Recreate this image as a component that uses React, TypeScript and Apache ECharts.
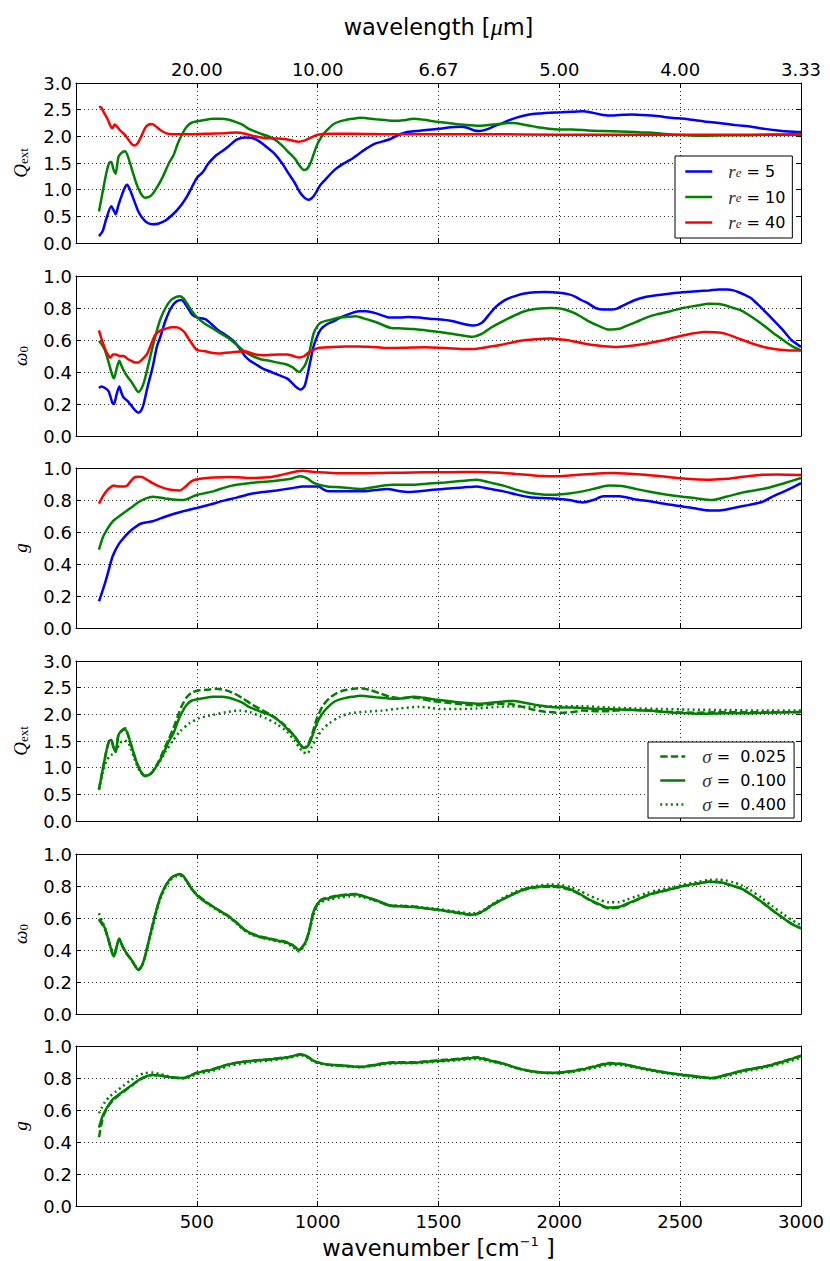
import React, { useEffect, useRef } from "react";
import * as echarts from "echarts";

type Pt = [number, number];

// ---------- axis / tick data ----------
const X_MIN = 0;
const X_MAX = 3000;
const X_STEP = 500;
const WAVELENGTH_LABELS = ["20.00", "10.00", "6.67", "5.00", "4.00", "3.33"];
const LEGEND_RE = ["r_e = 5", "r_e = 10", "r_e = 40"];
const LEGEND_SIGMA = ["σ = 0.025", "σ = 0.100", "σ = 0.400"];

// ---------- panel 1: Q_ext, r_e = 5 / 10 / 40 ----------
const Q_RE5: Pt[] = [[95,0.13],[110,0.22],[125,0.45],[146,0.69],[155,0.62],[164,0.54],[175,0.7],[186,0.85],[200,1.02],[212,1.09],[225,0.98],[240,0.8],[257,0.6],[273,0.48],[295,0.38],[317,0.35],[340,0.36],[370,0.42],[415,0.6],[440,0.74],[460,0.88],[480,1.05],[500,1.22],[525,1.33],[546,1.48],[579,1.64],[610,1.74],[633,1.82],[665,1.94],[700,1.98],[731,1.97],[760,1.9],[786,1.81],[820,1.68],[852,1.5],[880,1.3],[906,1.12],[925,0.96],[945,0.85],[961,0.81],[975,0.84],[990,0.92],[1010,1.08],[1030,1.18],[1070,1.37],[1100,1.47],[1135,1.56],[1170,1.67],[1201,1.77],[1235,1.86],[1266,1.9],[1300,1.95],[1332,2.02],[1370,2.08],[1410,2.1],[1450,2.12],[1506,2.14],[1550,2.17],[1590,2.18],[1620,2.16],[1648,2.11],[1670,2.1],[1700,2.13],[1725,2.18],[1760,2.24],[1790,2.3],[1823,2.35],[1856,2.39],[1890,2.42],[1921,2.43],[1960,2.44],[2009,2.45],[2050,2.46],[2096,2.47],[2140,2.44],[2170,2.41],[2205,2.39],[2250,2.4],[2300,2.41],[2340,2.4],[2402,2.38],[2460,2.35],[2533,2.32],[2600,2.28],[2664,2.25],[2730,2.21],[2795,2.18],[2850,2.14],[2904,2.11],[2950,2.09],[3000,2.08]];
const Q_RE10: Pt[] = [[95,0.59],[110,0.95],[125,1.3],[137,1.5],[146,1.52],[155,1.38],[164,1.3],[175,1.6],[186,1.68],[203,1.72],[215,1.62],[230,1.4],[245,1.18],[258,1.02],[272,0.9],[284,0.85],[300,0.86],[317,0.92],[340,1.08],[360,1.25],[385,1.5],[404,1.65],[420,1.85],[437,2.02],[458,2.18],[480,2.26],[524,2.3],[568,2.33],[600,2.33],[633,2.31],[660,2.27],[688,2.22],[715,2.14],[742,2.09],[770,2.04],[797,2.0],[825,1.93],[852,1.83],[880,1.7],[906,1.58],[925,1.45],[943,1.37],[958,1.4],[972,1.52],[990,1.75],[1004,1.9],[1025,2.05],[1048,2.16],[1070,2.24],[1092,2.28],[1120,2.31],[1146,2.33],[1175,2.35],[1201,2.34],[1240,2.32],[1288,2.3],[1320,2.29],[1354,2.3],[1397,2.33],[1440,2.31],[1485,2.28],[1540,2.25],[1594,2.22],[1659,2.2],[1700,2.21],[1747,2.23],[1790,2.25],[1812,2.25],[1850,2.22],[1878,2.2],[1910,2.17],[1943,2.15],[2000,2.13],[2052,2.13],[2120,2.11],[2183,2.1],[2250,2.09],[2314,2.08],[2370,2.07],[2424,2.05],[2480,2.03],[2533,2.02],[2600,2.01],[2680,2.02],[2751,2.02],[2850,2.03],[2950,2.04],[3000,2.05]];
const Q_RE40: Pt[] = [[95,2.55],[105,2.54],[115,2.45],[130,2.33],[142,2.2],[150,2.15],[160,2.22],[170,2.18],[185,2.1],[200,2.04],[215,1.95],[230,1.86],[242,1.83],[255,1.87],[270,2.0],[285,2.15],[300,2.22],[315,2.23],[335,2.17],[355,2.1],[380,2.05],[420,2.04],[480,2.04],[550,2.05],[610,2.06],[660,2.07],[700,2.05],[740,2.0],[780,1.97],[820,1.96],[860,1.95],[895,1.92],[920,1.9],[945,1.92],[970,1.97],[1000,2.03],[1050,2.05],[1150,2.05],[1300,2.04],[1500,2.04],[1700,2.04],[2000,2.03],[2300,2.03],[2600,2.03],[3000,2.03]];

// ---------- panel 2: omega_0, r_e ----------
const W_RE5: Pt[] = [[95,0.30],[105,0.31],[120,0.30],[135,0.28],[150,0.21],[157,0.20],[168,0.26],[179,0.31],[188,0.27],[197,0.24],[213,0.22],[229,0.19],[245,0.16],[258,0.145],[270,0.16],[280,0.2],[295,0.3],[317,0.43],[335,0.56],[349,0.62],[370,0.72],[393,0.8],[415,0.84],[437,0.85],[450,0.83],[463,0.8],[480,0.76],[502,0.74],[535,0.73],[560,0.7],[590,0.66],[620,0.63],[655,0.59],[680,0.54],[699,0.5],[720,0.47],[742,0.45],[775,0.42],[808,0.4],[840,0.38],[873,0.36],[895,0.33],[908,0.31],[930,0.29],[945,0.31],[956,0.37],[970,0.47],[983,0.56],[1000,0.63],[1015,0.67],[1040,0.7],[1070,0.72],[1100,0.745],[1135,0.765],[1170,0.78],[1201,0.78],[1245,0.765],[1299,0.74],[1340,0.74],[1376,0.744],[1420,0.74],[1463,0.733],[1510,0.728],[1550,0.72],[1605,0.7],[1645,0.69],[1681,0.71],[1710,0.76],[1736,0.806],[1765,0.84],[1790,0.86],[1820,0.876],[1856,0.89],[1900,0.898],[1943,0.9],[2009,0.894],[2040,0.885],[2063,0.873],[2090,0.85],[2118,0.83],[2150,0.8],[2183,0.79],[2215,0.79],[2238,0.796],[2270,0.82],[2314,0.85],[2360,0.87],[2402,0.88],[2460,0.89],[2511,0.898],[2570,0.905],[2620,0.91],[2660,0.915],[2696,0.915],[2720,0.91],[2740,0.9],[2770,0.88],[2795,0.86],[2830,0.81],[2860,0.765],[2895,0.71],[2926,0.66],[2960,0.6],[3000,0.556]];
const W_RE10: Pt[] = [[95,0.594],[108,0.57],[120,0.535],[135,0.46],[150,0.38],[157,0.36],[168,0.42],[179,0.47],[188,0.44],[197,0.41],[213,0.37],[229,0.34],[245,0.3],[258,0.275],[272,0.3],[284,0.35],[300,0.45],[317,0.556],[333,0.65],[349,0.73],[370,0.8],[393,0.85],[415,0.87],[430,0.873],[445,0.86],[459,0.83],[480,0.78],[502,0.74],[535,0.7],[568,0.67],[600,0.64],[633,0.61],[665,0.57],[699,0.525],[730,0.5],[764,0.48],[800,0.47],[830,0.46],[865,0.45],[895,0.43],[912,0.41],[924,0.4],[937,0.42],[950,0.45],[965,0.52],[983,0.64],[1000,0.69],[1015,0.71],[1050,0.725],[1092,0.74],[1130,0.745],[1157,0.748],[1190,0.735],[1223,0.72],[1260,0.7],[1299,0.677],[1350,0.672],[1397,0.669],[1450,0.66],[1506,0.65],[1550,0.64],[1594,0.63],[1638,0.62],[1681,0.64],[1720,0.68],[1769,0.72],[1810,0.75],[1856,0.78],[1910,0.795],[1965,0.8],[2010,0.795],[2052,0.775],[2085,0.75],[2118,0.72],[2160,0.69],[2205,0.665],[2249,0.67],[2280,0.69],[2314,0.71],[2360,0.74],[2402,0.76],[2460,0.78],[2511,0.8],[2570,0.815],[2620,0.827],[2660,0.825],[2686,0.817],[2720,0.8],[2751,0.785],[2790,0.75],[2838,0.70],[2880,0.65],[2926,0.6],[2965,0.56],[3000,0.535]];
const W_RE40: Pt[] = [[95,0.66],[105,0.61],[120,0.546],[135,0.5],[142,0.49],[153,0.51],[164,0.51],[180,0.5],[197,0.5],[215,0.48],[229,0.47],[245,0.46],[258,0.46],[275,0.48],[295,0.515],[310,0.57],[327,0.63],[350,0.66],[371,0.67],[395,0.68],[415,0.68],[432,0.67],[448,0.65],[465,0.61],[480,0.577],[495,0.545],[506,0.535],[535,0.53],[560,0.52],[590,0.515],[620,0.52],[655,0.525],[699,0.53],[720,0.52],[742,0.51],[775,0.505],[808,0.508],[840,0.51],[873,0.51],[900,0.5],[924,0.49],[945,0.5],[961,0.52],[985,0.54],[1004,0.55],[1050,0.555],[1113,0.56],[1170,0.56],[1223,0.556],[1270,0.552],[1310,0.55],[1370,0.552],[1441,0.554],[1530,0.55],[1616,0.544],[1660,0.546],[1703,0.556],[1760,0.57],[1834,0.594],[1900,0.605],[1965,0.61],[2030,0.6],[2096,0.58],[2160,0.565],[2227,0.556],[2290,0.563],[2358,0.577],[2420,0.595],[2489,0.62],[2550,0.64],[2598,0.65],[2640,0.648],[2686,0.64],[2740,0.61],[2795,0.58],[2850,0.555],[2904,0.54],[2950,0.535],[3000,0.535]];

// ---------- panel 3: g, r_e ----------
const G_RE5: Pt[] = [[95,0.167],[105,0.21],[120,0.28],[135,0.36],[152,0.45],[175,0.52],[197,0.5625],[220,0.6],[240,0.625],[265,0.65],[290,0.66],[317,0.667],[350,0.685],[393,0.708],[440,0.728],[500,0.75],[555,0.772],[612,0.796],[665,0.815],[721,0.8375],[775,0.85],[830,0.86],[890,0.873],[939,0.885],[1004,0.885],[1025,0.865],[1048,0.854],[1110,0.854],[1179,0.854],[1240,0.863],[1288,0.869],[1330,0.858],[1376,0.85],[1450,0.86],[1528,0.871],[1600,0.878],[1659,0.885],[1710,0.87],[1769,0.854],[1820,0.835],[1878,0.817],[1930,0.812],[1987,0.808],[2040,0.8],[2096,0.785],[2140,0.8],[2183,0.823],[2249,0.823],[2310,0.805],[2380,0.79],[2440,0.775],[2511,0.76],[2570,0.745],[2620,0.735],[2664,0.735],[2720,0.75],[2780,0.768],[2838,0.7875],[2880,0.82],[2940,0.86],[3000,0.906]];
const G_RE10: Pt[] = [[95,0.49],[105,0.54],[113,0.573],[130,0.62],[152,0.667],[180,0.7],[207,0.73],[235,0.76],[262,0.79],[290,0.81],[317,0.82],[345,0.816],[371,0.81],[400,0.803],[426,0.80],[445,0.8],[459,0.805],[480,0.82],[502,0.833],[535,0.843],[568,0.854],[600,0.87],[633,0.885],[680,0.898],[721,0.906],[765,0.912],[808,0.917],[850,0.925],[884,0.931],[910,0.943],[928,0.948],[945,0.943],[961,0.931],[980,0.91],[1004,0.896],[1040,0.885],[1092,0.879],[1140,0.873],[1179,0.869],[1230,0.88],[1280,0.892],[1310,0.896],[1397,0.896],[1460,0.903],[1528,0.91],[1590,0.918],[1659,0.927],[1710,0.91],[1769,0.89],[1820,0.865],[1878,0.844],[1930,0.835],[1987,0.833],[2040,0.84],[2096,0.854],[2150,0.872],[2205,0.89],[2240,0.889],[2271,0.885],[2320,0.868],[2380,0.85],[2440,0.835],[2511,0.82],[2570,0.81],[2631,0.80],[2690,0.82],[2751,0.844],[2800,0.858],[2860,0.875],[2930,0.905],[3000,0.9375]];
const G_RE40: Pt[] = [[95,0.777],[108,0.815],[120,0.844],[135,0.87],[157,0.89],[170,0.886],[186,0.885],[200,0.885],[212,0.89],[225,0.915],[240,0.94],[257,0.945],[273,0.944],[295,0.925],[317,0.906],[345,0.885],[371,0.871],[400,0.862],[430,0.86],[450,0.88],[469,0.906],[485,0.922],[502,0.93],[535,0.936],[568,0.94],[633,0.944],[690,0.94],[742,0.9375],[780,0.94],[808,0.944],[845,0.955],[884,0.969],[915,0.98],[939,0.983],[970,0.978],[1004,0.973],[1060,0.969],[1113,0.967],[1190,0.967],[1266,0.969],[1350,0.971],[1441,0.973],[1550,0.974],[1659,0.975],[1720,0.972],[1769,0.969],[1820,0.962],[1878,0.956],[1930,0.95],[1987,0.948],[2040,0.953],[2096,0.96],[2160,0.966],[2227,0.969],[2290,0.964],[2358,0.958],[2420,0.948],[2489,0.9375],[2560,0.93],[2620,0.927],[2660,0.93],[2707,0.935],[2770,0.947],[2838,0.958],[2900,0.96],[3000,0.956]];

// ---------- panel 4: Q_ext, sigma (solid = sigma 0.100 = Q_RE10) ----------
const Q_S025: Pt[] = [[95,0.59],[110,0.95],[125,1.3],[137,1.5],[146,1.52],[155,1.38],[164,1.3],[175,1.6],[186,1.68],[203,1.74],[215,1.62],[230,1.4],[245,1.18],[258,1.02],[272,0.9],[284,0.84],[300,0.86],[317,0.93],[340,1.1],[360,1.3],[385,1.55],[404,1.75],[420,1.95],[437,2.15],[458,2.32],[480,2.41],[510,2.45],[540,2.46],[580,2.48],[620,2.45],[655,2.39],[690,2.3],[730,2.18],[770,2.08],[810,1.98],[850,1.85],[880,1.72],[906,1.58],[925,1.45],[943,1.37],[958,1.42],[975,1.6],[995,1.9],[1020,2.15],[1048,2.3],[1080,2.4],[1110,2.45],[1150,2.48],[1180,2.49],[1220,2.45],[1260,2.39],[1300,2.33],[1340,2.3],[1380,2.32],[1420,2.3],[1470,2.25],[1530,2.22],[1594,2.19],[1650,2.17],[1700,2.18],[1750,2.2],[1790,2.2],[1830,2.16],[1880,2.1],[1940,2.05],[2000,2.03],[2050,2.04],[2096,2.07],[2150,2.06],[2205,2.06],[2260,2.08],[2320,2.08],[2400,2.06],[2480,2.04],[2560,2.03],[2650,2.04],[2750,2.04],[2850,2.04],[3000,2.04]];
const Q_S400: Pt[] = [[95,0.59],[110,0.9],[125,1.12],[140,1.22],[150,1.25],[165,1.3],[180,1.45],[195,1.5],[210,1.5],[225,1.38],[245,1.13],[262,0.95],[280,0.86],[300,0.85],[320,0.95],[345,1.1],[370,1.3],[400,1.5],[430,1.68],[469,1.83],[510,1.93],[568,1.99],[620,2.04],[677,2.07],[720,2.04],[760,1.97],[786,1.925],[830,1.82],[873,1.675],[905,1.5],[925,1.37],[939,1.3],[955,1.26],[972,1.36],[995,1.55],[1020,1.72],[1048,1.83],[1090,1.95],[1135,2.02],[1200,2.05],[1266,2.07],[1340,2.11],[1419,2.14],[1470,2.12],[1506,2.1],[1580,2.1],[1659,2.11],[1747,2.14],[1800,2.15],[1878,2.14],[1980,2.15],[2096,2.15],[2200,2.13],[2314,2.11],[2420,2.1],[2533,2.09],[2700,2.08],[2850,2.07],[3000,2.07]];

// ---------- panel 5: omega_0, sigma ----------
const W_S025: Pt[] = [[95,0.59],[108,0.56],[120,0.53],[135,0.46],[150,0.38],[157,0.36],[168,0.42],[179,0.47],[188,0.44],[197,0.41],[213,0.37],[229,0.34],[245,0.3],[258,0.275],[272,0.3],[284,0.35],[300,0.45],[317,0.556],[333,0.65],[349,0.73],[370,0.8],[393,0.85],[415,0.87],[430,0.875],[445,0.86],[459,0.83],[480,0.78],[502,0.745],[535,0.705],[568,0.67],[600,0.64],[633,0.61],[665,0.57],[699,0.525],[730,0.5],[764,0.485],[800,0.472],[830,0.462],[865,0.452],[895,0.432],[912,0.412],[924,0.402],[937,0.42],[950,0.45],[965,0.52],[983,0.64],[1000,0.69],[1015,0.715],[1050,0.73],[1092,0.742],[1130,0.748],[1157,0.75],[1190,0.737],[1223,0.72],[1260,0.698],[1299,0.678],[1350,0.675],[1397,0.672],[1450,0.66],[1506,0.648],[1550,0.638],[1594,0.628],[1638,0.618],[1681,0.638],[1720,0.678],[1769,0.72],[1810,0.75],[1856,0.776],[1910,0.792],[1965,0.796],[2010,0.79],[2052,0.772],[2085,0.748],[2118,0.718],[2160,0.686],[2205,0.66],[2249,0.665],[2280,0.686],[2314,0.708],[2360,0.738],[2402,0.758],[2460,0.778],[2511,0.798],[2570,0.814],[2620,0.826],[2660,0.824],[2686,0.816],[2720,0.8],[2751,0.785],[2790,0.75],[2838,0.70],[2880,0.65],[2926,0.6],[2965,0.56],[3000,0.535]];
const W_S400: Pt[] = [[95,0.63],[108,0.58],[120,0.54],[135,0.46],[150,0.39],[157,0.37],[168,0.42],[179,0.46],[188,0.44],[197,0.41],[213,0.37],[229,0.34],[245,0.3],[258,0.28],[272,0.3],[284,0.35],[300,0.44],[317,0.54],[333,0.64],[349,0.72],[370,0.79],[393,0.84],[415,0.86],[430,0.865],[445,0.855],[459,0.825],[480,0.78],[502,0.74],[535,0.7],[568,0.665],[600,0.635],[633,0.605],[665,0.565],[699,0.52],[730,0.495],[764,0.478],[800,0.466],[830,0.455],[865,0.443],[895,0.422],[912,0.4],[924,0.39],[937,0.41],[950,0.44],[965,0.51],[983,0.62],[1000,0.68],[1015,0.7],[1050,0.715],[1092,0.728],[1130,0.735],[1157,0.738],[1190,0.728],[1223,0.715],[1260,0.698],[1299,0.68],[1350,0.676],[1397,0.672],[1450,0.664],[1506,0.655],[1550,0.645],[1594,0.636],[1638,0.628],[1681,0.645],[1720,0.685],[1769,0.728],[1810,0.758],[1856,0.785],[1910,0.802],[1965,0.81],[2010,0.806],[2052,0.79],[2085,0.77],[2118,0.745],[2160,0.718],[2205,0.698],[2249,0.7],[2280,0.715],[2314,0.733],[2360,0.755],[2402,0.772],[2460,0.79],[2511,0.808],[2570,0.825],[2620,0.838],[2660,0.84],[2686,0.836],[2720,0.822],[2751,0.806],[2790,0.775],[2838,0.725],[2880,0.675],[2926,0.625],[2965,0.585],[3000,0.555]];

// ---------- panel 6: g, sigma ----------
const G_S025: Pt[] = [[95,0.43],[105,0.51],[113,0.56],[130,0.615],[152,0.66],[180,0.695],[207,0.725],[235,0.758],[262,0.788],[290,0.808],[317,0.818],[345,0.815],[371,0.81],[400,0.803],[426,0.80],[445,0.8],[459,0.806],[480,0.82],[502,0.835],[535,0.845],[568,0.856],[600,0.872],[633,0.887],[680,0.9],[721,0.907],[765,0.913],[808,0.918],[850,0.926],[884,0.932],[910,0.943],[928,0.947],[945,0.942],[961,0.93],[980,0.91],[1004,0.896],[1040,0.884],[1092,0.878],[1140,0.873],[1179,0.87],[1230,0.882],[1280,0.894],[1310,0.898],[1397,0.898],[1460,0.906],[1528,0.914],[1590,0.921],[1659,0.93],[1710,0.912],[1769,0.89],[1820,0.864],[1878,0.843],[1930,0.834],[1987,0.831],[2040,0.84],[2096,0.856],[2150,0.875],[2205,0.893],[2240,0.891],[2271,0.886],[2320,0.868],[2380,0.85],[2440,0.834],[2511,0.818],[2570,0.808],[2631,0.798],[2690,0.818],[2751,0.843],[2800,0.858],[2860,0.876],[2930,0.906],[3000,0.94]];
const G_S400: Pt[] = [[95,0.58],[105,0.61],[120,0.65],[140,0.685],[165,0.715],[195,0.75],[225,0.785],[255,0.815],[285,0.83],[317,0.835],[345,0.826],[371,0.815],[400,0.806],[426,0.80],[445,0.798],[459,0.8],[480,0.812],[502,0.825],[535,0.835],[568,0.846],[600,0.86],[633,0.875],[680,0.888],[721,0.897],[765,0.905],[808,0.91],[850,0.918],[884,0.926],[910,0.937],[928,0.942],[945,0.938],[961,0.926],[980,0.906],[1004,0.892],[1040,0.881],[1092,0.875],[1140,0.87],[1179,0.867],[1230,0.876],[1280,0.887],[1310,0.891],[1397,0.892],[1460,0.898],[1528,0.905],[1590,0.912],[1659,0.92],[1710,0.905],[1769,0.885],[1820,0.862],[1878,0.842],[1930,0.833],[1987,0.83],[2040,0.835],[2096,0.848],[2150,0.865],[2205,0.882],[2240,0.882],[2271,0.878],[2320,0.862],[2380,0.845],[2440,0.83],[2511,0.815],[2570,0.805],[2631,0.797],[2690,0.812],[2751,0.835],[2800,0.85],[2860,0.868],[2930,0.895],[3000,0.925]];

// ---------- style ----------
const FONT = "DejaVu Sans";
const MATH = "Liberation Serif";
const BLUE = "#0000ff";
const GREEN = "#008000";
const RED = "#ff0000";
const DASH: number[] = [7.4, 3.2];
const DOT: number[] = [2, 3.3];
const TICK_FONT = 18;
const TITLE_FONT = 22.5;
const LEGEND_FONT = 16;

const GRID_LEFT = 76;
const GRID_W = 725;
const GRID_H = 160;
const GRID_TOPS = [83, 276, 468, 661, 854, 1046];

type SeriesDef = { name: string; data: Pt[]; color: string; dash: "solid" | number[] };
type PanelDef = { ymax: number; step: number; yname: string; series: SeriesDef[] };

const PANELS: PanelDef[] = [
  {
    ymax: 3, step: 0.5, yname: "{q|Q}{s|ext}",
    series: [
      { name: LEGEND_RE[0], data: Q_RE5, color: BLUE, dash: "solid" },
      { name: LEGEND_RE[1], data: Q_RE10, color: GREEN, dash: "solid" },
      { name: LEGEND_RE[2], data: Q_RE40, color: RED, dash: "solid" },
    ],
  },
  {
    ymax: 1, step: 0.2, yname: "{q|ω}{s|0}",
    series: [
      { name: "w " + LEGEND_RE[0], data: W_RE5, color: BLUE, dash: "solid" },
      { name: "w " + LEGEND_RE[1], data: W_RE10, color: GREEN, dash: "solid" },
      { name: "w " + LEGEND_RE[2], data: W_RE40, color: RED, dash: "solid" },
    ],
  },
  {
    ymax: 1, step: 0.2, yname: "{q|g}",
    series: [
      { name: "g " + LEGEND_RE[0], data: G_RE5, color: BLUE, dash: "solid" },
      { name: "g " + LEGEND_RE[1], data: G_RE10, color: GREEN, dash: "solid" },
      { name: "g " + LEGEND_RE[2], data: G_RE40, color: RED, dash: "solid" },
    ],
  },
  {
    ymax: 3, step: 0.5, yname: "{q|Q}{s|ext}",
    series: [
      { name: LEGEND_SIGMA[0], data: Q_S025, color: GREEN, dash: DASH },
      { name: LEGEND_SIGMA[1], data: Q_RE10, color: GREEN, dash: "solid" },
      { name: LEGEND_SIGMA[2], data: Q_S400, color: GREEN, dash: DOT },
    ],
  },
  {
    ymax: 1, step: 0.2, yname: "{q|ω}{s|0}",
    series: [
      { name: "w " + LEGEND_SIGMA[0], data: W_S025, color: GREEN, dash: DASH },
      { name: "w " + LEGEND_SIGMA[1], data: W_RE10, color: GREEN, dash: "solid" },
      { name: "w " + LEGEND_SIGMA[2], data: W_S400, color: GREEN, dash: DOT },
    ],
  },
  {
    ymax: 1, step: 0.2, yname: "{q|g}",
    series: [
      { name: "g " + LEGEND_SIGMA[0], data: G_S025, color: GREEN, dash: DASH },
      { name: "g " + LEGEND_SIGMA[1], data: G_RE10, color: GREEN, dash: "solid" },
      { name: "g " + LEGEND_SIGMA[2], data: G_S400, color: GREEN, dash: DOT },
    ],
  },
];

const AXIS_LINE = { show: true, onZero: false, lineStyle: { color: "#000", width: 1 } };
const TICK_IN = { show: true, inside: true, length: 5, lineStyle: { color: "#000", width: 1 } };
const GRID_LINE = { show: true, lineStyle: { color: "#000", width: 0.8, type: [1, 3] as number[] } };

function buildOption() {
  const grid: any[] = [];
  const xAxis: any[] = [];
  const yAxis: any[] = [];
  const series: any[] = [];

  PANELS.forEach((p, i) => {
    grid.push({ left: GRID_LEFT, top: GRID_TOPS[i], width: GRID_W, height: GRID_H, containLabel: false });
    const isLast = i === PANELS.length - 1;
    const isFirst = i === 0;
    xAxis.push({
      type: "value", gridIndex: i, position: "bottom", min: X_MIN, max: X_MAX, interval: X_STEP,
      axisLine: AXIS_LINE, axisTick: TICK_IN, splitLine: GRID_LINE,
      axisLabel: {
        show: isLast, margin: 6, color: "#000", fontFamily: FONT, fontSize: TICK_FONT,
        formatter: (v: number) => (v === 0 ? "" : String(v)),
      },
      name: isLast ? "{a|wavenumber [cm}{u|−1}{a| ]}" : "",
      nameLocation: "middle", nameGap: 29,
      nameTextStyle: {
        color: "#000", fontFamily: FONT, fontSize: TITLE_FONT,
        rich: {
          a: { fontFamily: FONT, fontSize: TITLE_FONT, lineHeight: 26, color: "#000" },
          u: { fontFamily: FONT, fontSize: 13, lineHeight: 16, verticalAlign: "top", color: "#000" },
        },
      },
    });
    xAxis.push({
      type: "value", gridIndex: i, position: "top", min: X_MIN, max: X_MAX, interval: X_STEP,
      axisLine: AXIS_LINE, axisTick: TICK_IN, splitLine: { show: false },
      axisLabel: {
        show: isFirst, margin: 5, color: "#000", fontFamily: FONT, fontSize: TICK_FONT,
        formatter: (v: number) => (v === 0 ? "" : WAVELENGTH_LABELS[Math.round(v / X_STEP) - 1] || ""),
      },
      name: isFirst ? "{a|wavelength [}{m|μ}{a|m]}" : "",
      nameLocation: "middle", nameGap: 43,
      nameTextStyle: {
        color: "#000", fontFamily: FONT, fontSize: TITLE_FONT,
        rich: {
          a: { fontFamily: FONT, fontSize: TITLE_FONT, lineHeight: 26, color: "#000" },
          m: { fontFamily: MATH, fontStyle: "italic", fontSize: 24, lineHeight: 26, color: "#000" },
        },
      },
    });
    yAxis.push({
      type: "value", gridIndex: i, position: "left", min: 0, max: p.ymax, interval: p.step,
      axisLine: AXIS_LINE, axisTick: TICK_IN, splitLine: GRID_LINE,
      axisLabel: {
        show: true, margin: 4, color: "#000", fontFamily: FONT, fontSize: TICK_FONT,
        formatter: (v: number) => v.toFixed(1),
      },
      name: p.yname, nameLocation: "middle", nameGap: 46, nameRotate: 90,
      nameTextStyle: {
        color: "#000",
        rich: {
          q: { fontFamily: MATH, fontStyle: "italic", fontSize: 19, lineHeight: 20, color: "#000" },
          s: { fontFamily: MATH, fontSize: 13, lineHeight: 8, verticalAlign: "bottom", color: "#000" },
        },
      },
    });
    yAxis.push({
      type: "value", gridIndex: i, position: "right", min: 0, max: p.ymax, interval: p.step,
      axisLine: AXIS_LINE, axisTick: TICK_IN, splitLine: { show: false }, axisLabel: { show: false },
    });

    p.series.forEach((s) => {
      series.push({
        type: "line", name: s.name, xAxisIndex: 2 * i, yAxisIndex: 2 * i,
        data: s.data, symbol: "none", showSymbol: false, smooth: 0.25,
        lineStyle: { color: s.color, width: 2.5, type: s.dash },
        itemStyle: { color: s.color },
        emphasis: { disabled: true },
        silent: true,
      });
    });
  });

  const legendRich = {
    i: { fontFamily: MATH, fontStyle: "italic", fontSize: 19, lineHeight: 14, color: "#333" },
    s: { fontFamily: MATH, fontStyle: "italic", fontSize: 13, lineHeight: 4, verticalAlign: "bottom", color: "#333" },
    t: { fontFamily: FONT, fontSize: LEGEND_FONT, lineHeight: 14, color: "#000" },
  };

  const legendCommon = {
    orient: "vertical",
    backgroundColor: "#fff", borderColor: "#000", borderWidth: 1, borderRadius: 0,
    selectedMode: false,
    itemHeight: 14,
    itemStyle: { opacity: 0 },
    lineStyle: { width: 2.5 },
  };

  const legend = [
    {
      ...legendCommon,
      data: LEGEND_RE, left: 675, top: 156,
      padding: [6, 7, 6, 9], itemGap: 6.5, itemWidth: 27,
      formatter: (name: string) => "{i|r}{s|e}{t| = " + name.split("= ")[1] + "}",
      textStyle: { fontFamily: FONT, fontSize: LEGEND_FONT, color: "#000", padding: [0, 0, 0, 11], rich: legendRich },
    },
    {
      ...legendCommon,
      data: LEGEND_SIGMA, left: 648, top: 742,
      padding: [5, 8, 4, 11], itemGap: 5, itemWidth: 25,
      formatter: (name: string) => "{i|σ}{t| =  " + name.split("= ")[1] + "}",
      textStyle: { fontFamily: FONT, fontSize: LEGEND_FONT, color: "#000", padding: [0, 0, 0, 12], rich: legendRich },
    },
  ];

  return {
    animation: false,
    backgroundColor: "#fff",
    textStyle: { fontFamily: FONT },
    grid, xAxis, yAxis, series, legend,
  };
}

export default function App() {
  const ref = useRef<HTMLDivElement>(null);
  useEffect(() => {
    document.body.style.margin = "0";
    if (!ref.current) return;
    const chart = echarts.init(ref.current, undefined, { renderer: "svg" });
    chart.setOption(buildOption() as any);
    return () => chart.dispose();
  }, []);
  return <div ref={ref} style={{ width: 830, height: 1261 }} />;
}
